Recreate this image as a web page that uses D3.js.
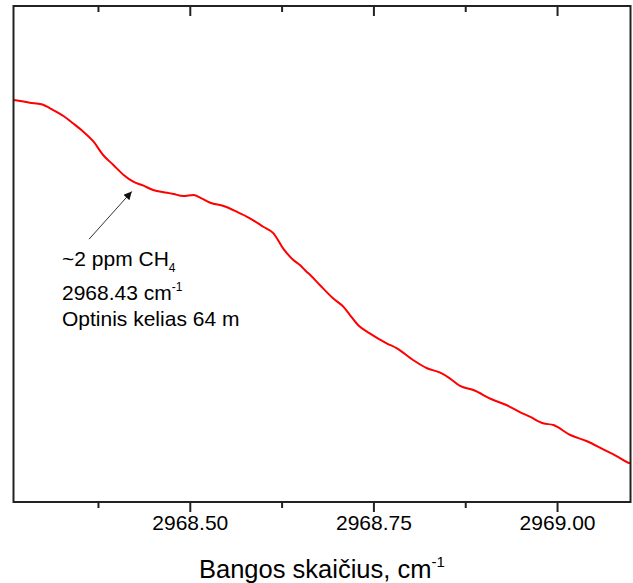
<!DOCTYPE html>
<html>
<head>
<meta charset="utf-8">
<script src="https://cdn.jsdelivr.net/npm/d3@7/dist/d3.min.js"></script>
<style>
  html, body { margin: 0; padding: 0; background: #fff; }
  svg { display: block; font-family: "Liberation Sans", Arial, sans-serif; }
</style>
</head>
<body>
<svg id="chart" width="633" height="583"></svg>
<script>
// Wavenumber (cm^-1) of each sample along the scan
const wavenumbers = [
  2968.260, 2968.269, 2968.282, 2968.298, 2968.314, 2968.328, 2968.341, 2968.355,
  2968.369, 2968.382, 2968.396, 2968.410, 2968.423, 2968.437, 2968.450, 2968.469,
  2968.478, 2968.491, 2968.505, 2968.516, 2968.528, 2968.546, 2968.564, 2968.582,
  2968.600, 2968.614, 2968.627, 2968.641, 2968.650, 2968.659, 2968.664, 2968.677,
  2968.695, 2968.709, 2968.718, 2968.729, 2968.745, 2968.768, 2968.782, 2968.804,
  2968.823, 2968.841, 2968.854, 2968.868, 2968.886, 2968.911, 2968.931, 2968.950,
  2968.963, 2968.981, 2968.995, 2969.018, 2969.040, 2969.063, 2969.081, 2969.097,
  2969.100
];
// Detected signal, arbitrary units
const signal = [
  0.8105, 0.8085, 0.8050, 0.8018, 0.7903, 0.7782, 0.7635, 0.7466,
  0.7264, 0.6996, 0.6794, 0.6593, 0.6458, 0.6377, 0.6290, 0.6236,
  0.6210, 0.6169, 0.6190, 0.6123, 0.6034, 0.5968, 0.5853, 0.5720,
  0.5550, 0.5417, 0.5115, 0.4879, 0.4778, 0.4643, 0.4577, 0.4375,
  0.4107, 0.3938, 0.3770, 0.3569, 0.3401, 0.3200, 0.3099, 0.2863,
  0.2696, 0.2607, 0.2494, 0.2339, 0.2258, 0.2071, 0.1956, 0.1808,
  0.1720, 0.1587, 0.1552, 0.1351, 0.1230, 0.1062, 0.0927, 0.0792,
  0.0780
];
const majorTicks = [2968.50, 2968.75, 2969.00];
const minorTicks = [2968.375, 2968.625, 2968.875];
const xDomain = [2968.26, 2969.10];
const yDomain = [0, 1];

// Absorption-line annotation: arrow from the label towards the feature
const arrowTip = { wn: 2968.421, v: 0.626 };
const arrowTail = { wn: 2968.363, v: 0.530 };

const svg = d3.select("#chart");
const L = 13.5, R = 630.5, T = 6, B = 502;
const x = d3.scaleLinear().domain(xDomain).range([L, R]);
const y = d3.scaleLinear().domain(yDomain).range([B, T]);

const frameColor = "#222";

function styleTicks(g) {
  g.select(".domain").remove();
  g.selectAll("line").attr("stroke", frameColor).attr("stroke-width", 2);
}

// bottom axis: major ticks with labels, minor ticks without
const bottomMajor = svg.append("g").attr("transform", `translate(0,${B})`)
  .call(d3.axisBottom(x).tickValues(majorTicks).tickSize(10)
    .tickFormat(d3.format(".2f")));
styleTicks(bottomMajor);
bottomMajor.selectAll("text").attr("font-size", 21).attr("fill", "#000")
  .attr("y", 13).attr("dy", "0.71em");

const bottomMinor = svg.append("g").attr("transform", `translate(0,${B})`)
  .call(d3.axisBottom(x).tickValues(minorTicks).tickSize(6).tickFormat(""));
styleTicks(bottomMinor);

// top axis: inward ticks, no labels
const topMajor = svg.append("g").attr("transform", `translate(0,${T})`)
  .call(d3.axisBottom(x).tickValues(majorTicks).tickSize(10).tickFormat(""));
styleTicks(topMajor);

const topMinor = svg.append("g").attr("transform", `translate(0,${T})`)
  .call(d3.axisBottom(x).tickValues(minorTicks).tickSize(6).tickFormat(""));
styleTicks(topMinor);

const defs = svg.append("defs");
defs.append("clipPath").attr("id", "plot-clip")
  .append("rect").attr("x", L).attr("y", T).attr("width", R - L).attr("height", B - T);

// trace
const points = wavenumbers.map((w, i) => [w, signal[i]]);
const line = d3.line().curve(d3.curveMonotoneX).x(d => x(d[0])).y(d => y(d[1]));
svg.append("path")
  .datum(points)
  .attr("clip-path", "url(#plot-clip)")
  .attr("fill", "none")
  .attr("stroke", "#ff0000")
  .attr("stroke-width", 2)
  .attr("stroke-linejoin", "round")
  .attr("d", line);

// frame
svg.append("rect")
  .attr("x", L).attr("y", T).attr("width", R - L).attr("height", B - T)
  .attr("fill", "none").attr("stroke", frameColor).attr("stroke-width", 2);

// arrow
defs.append("marker")
  .attr("id", "arrowhead")
  .attr("viewBox", "0 0 10 10")
  .attr("refX", 10).attr("refY", 5)
  .attr("markerWidth", 12).attr("markerHeight", 8)
  .attr("markerUnits", "userSpaceOnUse")
  .attr("orient", "auto")
  .append("path").attr("d", "M0,0 L10,5 L0,10 Z").attr("fill", "#111");

svg.append("line")
  .attr("x1", x(arrowTail.wn)).attr("y1", y(arrowTail.v))
  .attr("x2", x(arrowTip.wn)).attr("y2", y(arrowTip.v))
  .attr("stroke", "#333").attr("stroke-width", 1)
  .attr("marker-end", "url(#arrowhead)");

// annotation text
const ann = svg.append("g").attr("font-size", 21).attr("fill", "#000");
const t1 = ann.append("text").attr("x", 62).attr("y", 266);
t1.append("tspan").text("~2 ppm CH");
t1.append("tspan").attr("font-size", 12).attr("dy", 6).text("4");

const t2 = ann.append("text").attr("x", 62).attr("y", 300);
t2.append("tspan").text("2968.43 cm");
t2.append("tspan").attr("font-size", 12).attr("dy", -9).text("-1");

ann.append("text").attr("x", 62).attr("y", 326).text("Optinis kelias 64 m");

// x-axis title
const title = svg.append("text")
  .attr("x", 199).attr("y", 578)
  .attr("font-size", 25.5).attr("fill", "#000");
title.append("tspan").text("Bangos skaičius, cm");
title.append("tspan").attr("font-size", 15).attr("dy", -11).text("-1");
</script>
</body>
</html>
